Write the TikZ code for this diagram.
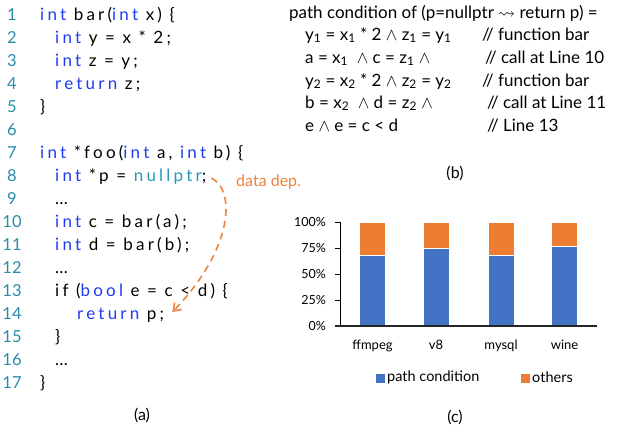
\documentclass[tikz,border=0pt]{standalone}
\usepackage{amssymb}
\usepackage{fontspec}
\setmainfont{Lato}
\newfontfamily\codefont[LetterSpace=19]{Lato}
\usetikzlibrary{arrows.meta}
\definecolor{lnum}{RGB}{40,140,170}
\definecolor{kwblue}{RGB}{30,60,240}
\definecolor{nulc}{RGB}{40,150,185}
\definecolor{depor}{RGB}{240,130,60}
\definecolor{barblue}{RGB}{68,114,196}
\definecolor{barorange}{RGB}{237,125,49}
\newcommand{\kw}[1]{\textcolor{kwblue}{#1}}
\newcommand{\nlp}[1]{\textcolor{nulc}{#1}}
\begin{document}
\begin{tikzpicture}[x=1pt,y=-1pt,
  lnumstyle/.style={anchor=base, inner sep=0pt, text=lnum, font=\fontsize{16.5}{18}\selectfont},
  codestyle/.style={anchor=base west, inner sep=0pt, font=\codefont\fontsize{17}{19}\selectfont},
  condstyle/.style={anchor=base west, inner sep=0pt, font=\fontsize{17}{19}\selectfont},
  capstyle/.style={anchor=base, inner sep=0pt, font=\fontsize{16}{18}\selectfont},
  ticklab/.style={anchor=base east, inner sep=0pt, font=\fontsize{12.5}{14}\selectfont},
  catlab/.style={anchor=base, inner sep=0pt, font=\fontsize{13}{15}\selectfont},
  legtext/.style={anchor=west, inner sep=0pt, font=\fontsize{14.5}{16}\selectfont},
  barb/.style={fill=barblue, draw=white, line width=0.6pt},
  baro/.style={fill=barorange, draw=white, line width=0.6pt},
  depline/.style={draw=depor, line width=1.6pt, dash pattern=on 7pt off 5pt}
]
\useasboundingbox (0,0) rectangle (618,432);
% line numbers
\foreach \i in {1,...,17}{
  \node[lnumstyle] (n\i) at (12,{20+23*(\i-1)}) {\i};
}
% code
\node[codestyle] (c1) at (40,20) {\kw{int} bar(\kw{int} x) \{};
\node[codestyle] (c2) at (55,43) {\kw{int} y = x * 2;};
\node[codestyle] (c3) at (55,66) {\kw{int} z = y;};
\node[codestyle] (c4) at (55,89) {\kw{return} z;};
\node[codestyle] (c5) at (40,112) {\}};
\node[codestyle] (c7) at (40,158) {\kw{int} *foo(\kw{int} a, \kw{int} b) \{};
\node[codestyle] (c8) at (55,181) {\kw{int} *p = \nlp{nullptr};};
\node[codestyle] (c9) at (55,204) {\dots};
\node[codestyle] (c10) at (55,227) {\kw{int} c = bar(a);};
\node[codestyle] (c11) at (55,250) {\kw{int} d = bar(b);};
\node[codestyle] (c12) at (55,273) {\dots};
\node[codestyle] (c13) at (55,296) {if (\kw{bool} e = c < d) \{};
\node[codestyle] (c14) at (77,319) {\kw{return} p;};
\node[codestyle] (c15) at (55,342) {\}};
\node[codestyle] (c16) at (55,365) {\dots};
\node[codestyle] (c17) at (40,388) {\}};
\node[capstyle] (capa) at (142,420) {(a)};
% data dep
\node[condstyle, font=\fontsize{16}{18}\selectfont, text=depor] (dd) at (236,186) {data dep.};
\coordinate (ds) at ([xshift=5pt,yshift=3pt]c8.base east);
\coordinate (de) at ([xshift=8pt,yshift=7pt]c14.base east);
\draw[depline, -{Straight Barb[length=7pt,width=10pt,line width=1.6pt]}]
  (ds) .. controls ([xshift=25pt,yshift=-13pt]ds) and ([xshift=60pt,yshift=62pt]de) .. (de);
% panel b
\node[condstyle] (t0) at (289,18) {path condition of (p=nullptr $\rightsquigarrow$ return p) =};
\node[condstyle] (e1) at (305,40) {y\textsubscript{1} = x\textsubscript{1} * 2 $\wedge$ z\textsubscript{1} = y\textsubscript{1}};
\node[condstyle] (k1) at (482,40) {// function bar};
\node[condstyle] (e2) at (305,63) {a = x\textsubscript{1} \ $\wedge$ c = z\textsubscript{1} $\wedge$};
\node[condstyle] (k2) at (485,63) {// call at Line 10};
\node[condstyle] (e3) at (305,86) {y\textsubscript{2} = x\textsubscript{2} * 2 $\wedge$ z\textsubscript{2} = y\textsubscript{2}};
\node[condstyle] (k3) at (482,86) {// function bar};
\node[condstyle] (e4) at (305,108) {b = x\textsubscript{2} \ $\wedge$ d = z\textsubscript{2} $\wedge$};
\node[condstyle] (k4) at (487,108) {// call at Line 11};
\node[condstyle] (e5) at (305,131) {e $\wedge$ e = c < d};
\node[condstyle] (k5) at (487,131) {// Line 13};
\node[capstyle] (capb) at (455,178) {(b)};
% panel c chart
\foreach \v/\lab in {0/0\%,25/25\%,50/50\%,75/75\%,100/100\%}{
  \draw[black, line width=0.8pt] (335,{326-1.04*\v}) -- (340,{326-1.04*\v});
  \node[ticklab] (tk\v) at (326,{326-1.04*\v+4.5}) {\lab};
}
\draw[black, line width=0.8pt] (340,222) -- (340,326);
% bars
\foreach \cx/\val/\nm in {372.5/68/ffmpeg,436/75/v8,501/68/mysql,564.5/77/wine}{
  \fill[barb] ({\cx-13},326) rectangle ({\cx+13},{326-1.04*\val});
  \fill[baro] ({\cx-13},{326-1.04*\val}) rectangle ({\cx+13},222);
  \draw[barb] ({\cx-13},326) rectangle ({\cx+13},{326-1.04*\val});
  \draw[baro] ({\cx-13},{326-1.04*\val}) rectangle ({\cx+13},222);
  \node[catlab] (cat\nm) at (\cx,349) {\nm};
}
\draw[black!85, line width=1.3pt] (335,326) -- (597,326);
% legend
\node[fill=barblue, minimum size=9pt, inner sep=0pt] (lgb) at (380,378) {};
\node[legtext] (lgbt) at (387,377) {path condition};
\node[fill=barorange, minimum size=9pt, inner sep=0pt] (lgo) at (525,378) {};
\node[legtext] (lgot) at (532,377) {others};
\node[capstyle] (capc) at (455,422) {(c)};
\end{tikzpicture}
\end{document}
